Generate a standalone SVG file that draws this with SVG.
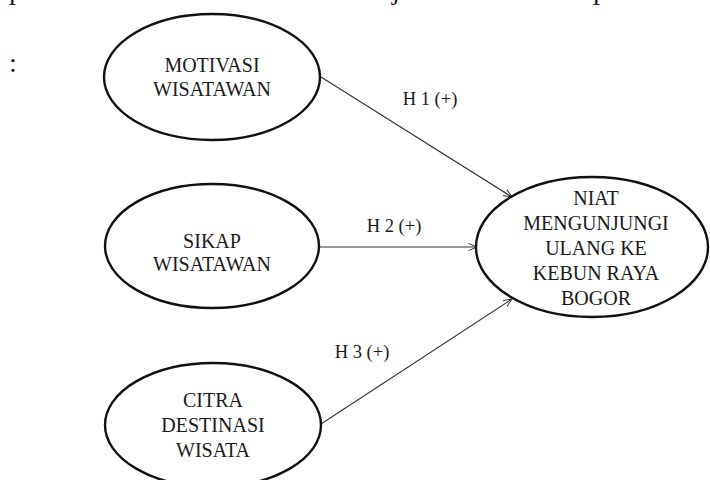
<svg xmlns="http://www.w3.org/2000/svg" width="710" height="480" viewBox="0 0 710 480">
<style>
text{font-family:"Liberation Serif","Times New Roman",serif;fill:#1a1a1a;}
.n{font-size:20px;text-anchor:middle;}
.l{font-size:18.5px;text-anchor:middle;}
.body{font-size:28px;}
ellipse{fill:#fff;stroke:#111;stroke-width:2.4;}
.c{stroke:#333;stroke-width:1.1;fill:none;marker-end:url(#ah);}
</style>
<defs>
<marker id="ah" viewBox="0 0 10 10" refX="9.5" refY="5" markerWidth="9" markerHeight="9" markerUnits="userSpaceOnUse" orient="auto">
<path d="M0,1 L9.5,5 L0,9" fill="none" stroke="#333" stroke-width="1.1"/>
</marker>
</defs>
<rect width="710" height="480" fill="#fff"/>
<g id="page-text">
<text class="body" x="9" y="-1">p</text>
<text class="body" x="392" y="-1">j</text>
<text class="body" x="593" y="-1">p</text>
<text class="body" x="9" y="72">:</text>
</g>
<g id="connectors">
<line class="c" x1="321" y1="77" x2="512" y2="197"/>
<line class="c" x1="320" y1="247" x2="477" y2="247"/>
<line class="c" x1="321" y1="424" x2="512" y2="299"/>
<text class="l" x="430" y="105">H 1 (+)</text>
<text class="l" x="394" y="232">H 2 (+)</text>
<text class="l" x="362" y="358">H 3 (+)</text>
</g>
<g id="motivasi">
<ellipse cx="212" cy="77" rx="108" ry="63"/>
<text class="n" x="212" y="72">MOTIVASI</text>
<text class="n" x="212" y="96">WISATAWAN</text>
</g>
<g id="sikap">
<ellipse cx="212" cy="246" rx="107" ry="62"/>
<text class="n" x="212" y="248">SIKAP</text>
<text class="n" x="212" y="271">WISATAWAN</text>
</g>
<g id="citra">
<ellipse cx="213" cy="425" rx="108" ry="62"/>
<text class="n" x="213" y="407">CITRA</text>
<text class="n" x="213" y="432">DESTINASI</text>
<text class="n" x="213" y="457">WISATA</text>
</g>
<g id="niat">
<ellipse cx="592" cy="247" rx="116" ry="70"/>
<text class="n" x="596" y="205">NIAT</text>
<text class="n" x="596" y="230">MENGUNJUNGI</text>
<text class="n" x="596" y="255">ULANG KE</text>
<text class="n" x="596" y="280">KEBUN RAYA</text>
<text class="n" x="596" y="305">BOGOR</text>
</g>
</svg>
